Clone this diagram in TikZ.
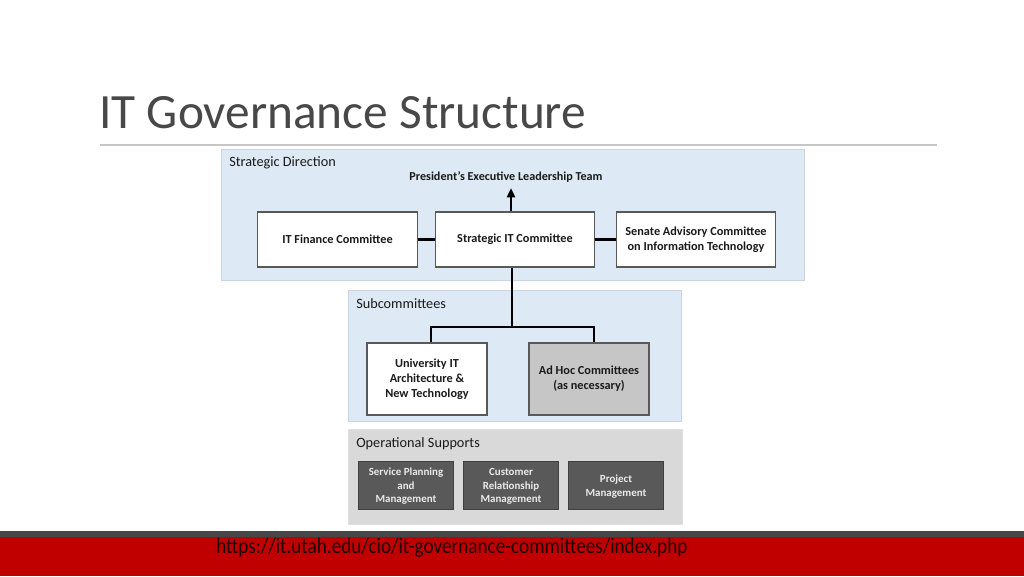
\documentclass[tikz,border=0pt]{standalone}
\usepackage{fontspec}
\setmainfont{Carlito}
\usetikzlibrary{arrows.meta}
\definecolor{titlegray}{HTML}{484848}
\definecolor{panelblue}{HTML}{DDE9F4}
\definecolor{panelborder}{HTML}{C9D6E2}
\definecolor{opgray}{HTML}{D9D9D9}
\definecolor{adhoc}{HTML}{C6C6C6}
\definecolor{darkbox}{HTML}{595959}
\definecolor{barred}{HTML}{C00000}
\definecolor{bargray}{HTML}{474747}
\definecolor{boxtext}{HTML}{1A1A1A}
\tikzset{
  panel/.style={draw=panelborder, line width=0.6pt, fill=panelblue},
  wbox/.style={draw=black!65, line width=0.8pt, fill=white, text=boxtext, font=\bfseries\fontsize{9.2}{11.25}\selectfont, align=center, inner sep=0pt},
  gbox/.style={wbox, fill=adhoc},
  dbox/.style={draw=black!75, line width=0.6pt, fill=darkbox, text=white!92!black, font=\bfseries\fontsize{8.2}{10.1}\selectfont, align=center, inner sep=0pt, text depth=0pt},
  topsize/.style={minimum width=119.5pt, minimum height=41.25pt},
  subsize/.style={minimum width=90pt, minimum height=54pt},
  opsize/.style={minimum width=71.5pt, minimum height=36pt},
  conn/.style={line width=2pt, draw=black},
  plabel/.style={anchor=west, text=boxtext, font=\fontsize{10.7}{12}\selectfont, inner sep=0pt}
}
\begin{document}
\begin{tikzpicture}[x=0.75pt, y=-0.75pt]
\useasboundingbox (0,0) rectangle (1024,576);
\fill[white] (0,0) rectangle (1024,576);
% title
\node[anchor=base west, inner sep=0pt, text=titlegray, font=\fontsize{37}{40}\selectfont] (title) at (99,128) {IT Governance Structure};
\draw[line width=0.8pt, draw=black!22] (100,145) -- (937,145);
% panels
\draw[panel] (221,149) rectangle (804,280);
\node[plabel] (sdlab) at (229,162.5) {Strategic Direction};
\draw[panel] (348,290) rectangle (681,421);
\node[plabel] (sclab) at (356,303.5) {Subcommittees};
\draw[draw=black!12, line width=0.6pt, fill=opgray] (348,429) rectangle (682,524);
\node[plabel] (oplab) at (356,443.5) {Operational Supports};
% strategic direction
\node[text=boxtext, font=\bfseries\fontsize{9.1}{10}\selectfont, inner sep=0pt] (pelt) at (506,177.5) {President’s Executive Leadership Team};
\node[wbox, topsize] (fin) at (337.5,239.5) {IT Finance Committee};
\node[wbox, topsize] (sit) at (515,239.5) {Strategic IT Committee};
\node[wbox, topsize] (sen) at (696,239.5) {Senate Advisory Committee\\on Information Technology};
\coordinate (up) at (511,188);
\draw[conn] (fin.east) -- (sit.west);
\draw[conn] (sit.east) -- (sen.west);
\draw[conn, -{Triangle[length=7pt, width=6pt]}] (sit.north -| up) -- (up);
% subcommittees
\node[wbox, subsize] (uni) at (427,379) {University IT\\Architecture \&\\New Technology};
\node[gbox, subsize] (adh) at (589,379) {Ad Hoc Committees\\(as necessary)};
\coordinate (br) at (512,327);
\draw[conn] (sit.south -| br) -- (br);
\draw[conn] (uni.north -| 431,0) |- (br) -| (adh.north -| 594,0);
% operational supports
\node[dbox, opsize] (spm) at (406,485.5) {Service Planning\\and\\Management};
\node[dbox, opsize] (crm) at (511,485.5) {Customer\\Relationship\\Management};
\node[dbox, opsize] (pm) at (616,485.5) {Project\\Management};
% bottom bar
\fill[bargray] (0,531) rectangle (1024,537);
\fill[barred] (0,537) rectangle (1024,576);
\node[anchor=base west, inner sep=0pt, text=black!85!barred, font=\fontsize{16.5}{18}\selectfont] (url) at (216,553.5) {\scalebox{0.872}[1]{https://it.utah.edu/cio/it-governance-committees/index.php}};
\end{tikzpicture}
\end{document}
